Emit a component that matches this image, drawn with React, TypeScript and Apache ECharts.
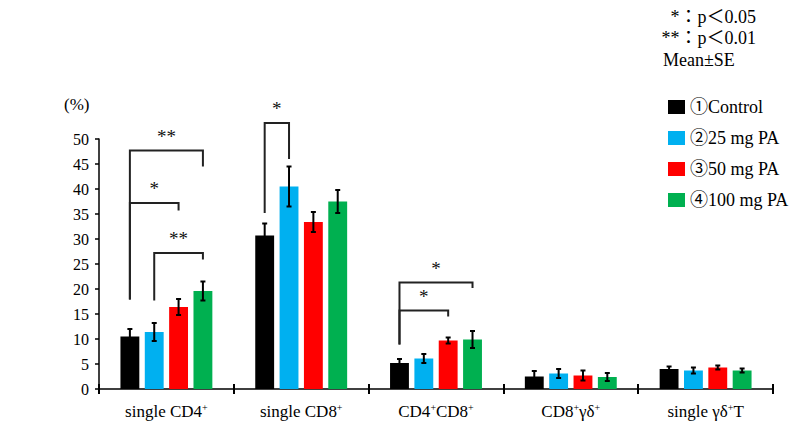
import React, { useEffect, useRef } from "react";
import * as echarts from "echarts";

const categories = ["single CD4", "single CD8", "CD4CD8", "CD8γδ", "single γδT"];
const categoryRich = [
  "{t|single CD4}{s|+}",
  "{t|single CD8}{s|+}",
  "{t|CD4}{s|+}{t|CD8}{s|+}",
  "{t|CD8}{s|+}{t|γδ}{s|+}",
  "{t|single γδ}{s|+}{t|T}",
];
const groupNames = ["①Control", "②25 mg PA", "③50 mg PA", "④100 mg PA"];
const groupColors = ["#000000", "#00B0F0", "#FF0000", "#00B050"];

const controlMean = [10.5, 30.7, 5.2, 2.5, 4.0];
const pa25Mean = [11.4, 40.5, 6.1, 3.1, 3.7];
const pa50Mean = [16.4, 33.4, 9.7, 2.7, 4.3];
const pa100Mean = [19.6, 37.5, 9.9, 2.4, 3.7];

const controlSE = [1.5, 2.4, 0.8, 1.1, 0.5];
const pa25SE = [1.8, 4.0, 0.9, 0.9, 0.6];
const pa50SE = [1.6, 2.0, 0.6, 1.0, 0.4];
const pa100SE = [1.9, 2.3, 1.7, 0.8, 0.4];

const yTicks = { min: 0, max: 50, interval: 5 };

// brackets: [category, leftGroup, rightGroup, top, leftBottom, rightBottom]
const brackets = [
  [0, 0, 3, 47.7, 17.9, 44.5],
  [0, 0, 2, 37.2, 17.9, 35.7],
  [0, 1, 3, 27.2, 17.7, 25.9],
  [1, 0, 1, 53.2, 35.2, 46.0],
  [2, 0, 3, 21.3, 8.9, 20.2],
  [2, 0, 2, 15.7, 8.9, 14.5],
];
const bracketLabels = ["**", "*", "**", "*", "*", "*"];

const noteLines = ["*：p＜0.05", "**：p＜0.01", "Mean±SE"];

const means = [controlMean, pa25Mean, pa50Mean, pa100Mean];
const ses = [controlSE, pa25SE, pa50SE, pa100SE];

const BAR_W = 0.14;
const BAR_GAP = 0.29;
const STEP = BAR_W * (1 + BAR_GAP);
const FONT = "'Liberation Serif', 'Noto Sans CJK JP', serif";

export default function App() {
  const ref = useRef<HTMLDivElement>(null);
  useEffect(() => {
    if (!ref.current) return;
    const chart = echarts.init(ref.current, null, { renderer: "svg" });

    const errData: number[][] = [];
    means.forEach((arr, g) =>
      arr.forEach((m, c) => errData.push([c, g, m, ses[g][c]]))
    );

    const option: any = {
      animation: false,
      backgroundColor: "#ffffff",
      grid: { left: 99, right: 29, top: 139, bottom: 42, containLabel: false },
      legend: {
        orient: "vertical",
        left: 663,
        top: 93,
        itemWidth: 17,
        itemHeight: 14,
        itemGap: 13,
        icon: "rect",
        data: groupNames,
        textStyle: { fontFamily: FONT, fontSize: 18, color: "#000" },
      },
      xAxis: [
        {
          type: "category",
          data: categories,
          axisLine: { lineStyle: { color: "#000", width: 1.5 } },
          axisTick: { show: true, length: 5, interval: 0, lineStyle: { color: "#000", width: 2 } },
          axisLabel: {
            margin: 13,
            interval: 0,
            formatter: (_v: string, i: number) => categoryRich[i],
            rich: {
              t: { fontFamily: FONT, fontSize: 17, color: "#000" },
              s: { fontFamily: FONT, fontSize: 10, color: "#000", verticalAlign: "top", padding: [0, 0, 8, 0] },
            },
          },
        },
        {
          type: "category",
          data: categories,
          position: "bottom",
          axisLine: { show: false },
          axisTick: { show: true, inside: true, length: 5, interval: 0, lineStyle: { color: "#000", width: 2 } },
          axisLabel: { show: false },
        },
      ],
      yAxis: {
        type: "value",
        min: yTicks.min,
        max: yTicks.max,
        interval: yTicks.interval,
        axisLine: { show: true, lineStyle: { color: "#000", width: 1.5 } },
        axisTick: { show: true, length: 4, lineStyle: { color: "#000", width: 1.5 } },
        splitLine: { show: false },
        axisLabel: { fontFamily: FONT, fontSize: 16, color: "#000", margin: 10 },
      },
      graphic: [
        {
          type: "text",
          left: 64,
          top: 96,
          style: { text: "(%)", fontFamily: FONT, fontSize: 17, fill: "#000" },
        },
        {
          type: "text",
          x: 756,
          y: 17,
          style: { text: noteLines[0], fontFamily: FONT, fontSize: 18, fill: "#000", textAlign: "right", textVerticalAlign: "middle" },
        },
        {
          type: "text",
          x: 756,
          y: 38,
          style: { text: noteLines[1], fontFamily: FONT, fontSize: 18, fill: "#000", textAlign: "right", textVerticalAlign: "middle" },
        },
        {
          type: "text",
          x: 663,
          y: 60,
          style: { text: noteLines[2], fontFamily: FONT, fontSize: 18, fill: "#000", textAlign: "left", textVerticalAlign: "middle" },
        },
      ],
      series: [
        ...groupNames.map((name, g) => ({
          name,
          type: "bar",
          data: means[g],
          barWidth: BAR_W * 100 + "%",
          barGap: BAR_GAP * 100 + "%",
          itemStyle: { color: groupColors[g] },
          z: 2,
        })),
        {
          type: "custom",
          z: 5,
          silent: true,
          itemStyle: { color: "#000" },
          data: errData,
          renderItem: (params: any, api: any) => {
            const c = api.value(0);
            const g = api.value(1);
            const m = api.value(2);
            const se = api.value(3);
            const band = api.size([1, 0])[0];
            const x = api.coord([c, 0])[0] + (g - 1.5) * STEP * band;
            const yt = api.coord([c, m + se])[1];
            const yb = api.coord([c, m - se])[1];
            const cap = 2.5;
            const style = { stroke: "#000", lineWidth: 2 };
            return {
              type: "group",
              children: [
                { type: "line", shape: { x1: x, y1: yt, x2: x, y2: yb }, style },
                { type: "line", shape: { x1: x - cap, y1: yt, x2: x + cap, y2: yt }, style },
                { type: "line", shape: { x1: x - cap, y1: yb, x2: x + cap, y2: yb }, style },
              ],
            };
          },
        },
        {
          type: "custom",
          z: 6,
          silent: true,
          clip: false,
          itemStyle: { color: "#222" },
          data: brackets,
          renderItem: (params: any, api: any) => {
            const c = api.value(0);
            const gl = api.value(1);
            const gr = api.value(2);
            const top = api.value(3);
            const lb = api.value(4);
            const rb = api.value(5);
            const band = api.size([1, 0])[0];
            const cx = api.coord([c, 0])[0];
            const xl = cx + (gl - 1.5) * STEP * band;
            const xr = cx + (gr - 1.5) * STEP * band;
            const yt = api.coord([c, top])[1];
            const yl = api.coord([c, lb])[1];
            const yr = api.coord([c, rb])[1];
            const style = { stroke: "#222", lineWidth: 2, fill: null };
            return {
              type: "group",
              children: [
                {
                  type: "polyline",
                  shape: { points: [[xl, yl], [xl, yt], [xr, yt], [xr, yr]] },
                  style,
                },
                {
                  type: "text",
                  x: (xl + xr) / 2,
                  y: yt - 5,
                  style: {
                    text: bracketLabels[params.dataIndex],
                    fontFamily: FONT,
                    fontSize: 19,
                    fill: "#111111",
                    textAlign: "center",
                    textVerticalAlign: "bottom",
                  },
                },
              ],
            };
          },
        },
      ],
    };
    chart.setOption(option);
    return () => chart.dispose();
  }, []);
  return (
    <div
      ref={ref}
      style={{ position: "fixed", left: 0, top: 0, width: 802, height: 431, background: "#fff" }}
    />
  );
}
